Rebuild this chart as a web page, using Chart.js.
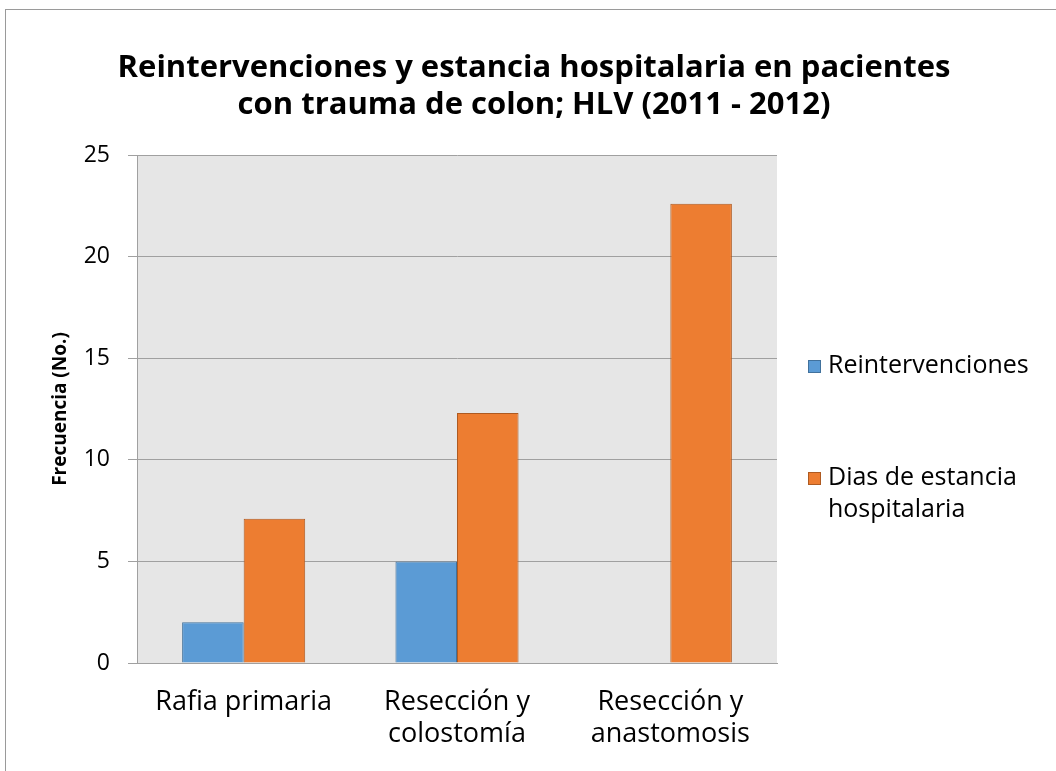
<!DOCTYPE html>
<html>
<head>
<meta charset="utf-8">
<script src="https://cdn.jsdelivr.net/npm/chart.js@4.4.1/dist/chart.umd.min.js"></script>
<style>
  html, body { margin: 0; padding: 0; background: #fff; }
  #wrap { position: relative; width: 1056px; height: 771px; overflow: hidden; }
  #frame { position: absolute; left: 5px; top: 9px; width: 1100px; height: 900px; border: 1px solid #9a9a9a; box-sizing: border-box; }
  canvas { position: absolute; left: 0; top: 0; }
</style>
</head>
<body>
<div id="wrap">
  <div id="frame"></div>
  <canvas id="c" width="1056" height="771"></canvas>
</div>
<script>
const categories = [["Rafia primaria"], ["Resección y", "colostomía"], ["Resección y", "anastomosis"]];
const reintervenciones = [2, 5, 0];
const diasEstancia = [7.1, 12.3, 22.6];
const yTicks = [0, 5, 10, 15, 20, 25];
const seriesNames = ["Reintervenciones", ["Dias de estancia", "hospitalaria"]];
const titleLines = ["Reintervenciones y estancia hospitalaria en pacientes", "con trauma de colon; HLV (2011 - 2012)"];
const yAxisTitle = "Frecuencia (No.)";

const FONT = "'Open Sans'";

const decor = {
  id: 'decor',
  beforeDraw(chart) {
    const { ctx, chartArea: a } = chart;
    ctx.save();
    ctx.fillStyle = '#e6e6e6';
    ctx.fillRect(a.left, a.top, a.right - a.left, a.bottom - a.top);
    ctx.restore();
  },
  afterDraw(chart) {
    const { ctx } = chart;
    ctx.save();
    ctx.fillStyle = '#000';
    ctx.textAlign = 'center';
    ctx.textBaseline = 'middle';
    ctx.font = 'bold 31px ' + FONT;
    ctx.fillText(titleLines[0], 534, 68);
    ctx.fillText(titleLines[1], 534, 105);
    ctx.save();
    ctx.translate(66, 409);
    ctx.rotate(-Math.PI / 2);
    ctx.textBaseline = 'alphabetic';
    ctx.font = 'bold 19px ' + FONT;
    ctx.fillText(yAxisTitle, 0, 0);
    ctx.restore();
    const ds = chart.data.datasets;
    const items = [{ y: 366, lines: [seriesNames[0]] }, { y: 478, lines: seriesNames[1] }];
    ctx.font = '25px ' + FONT;
    ctx.textAlign = 'left';
    items.forEach((it, i) => {
      ctx.fillStyle = ds[i].backgroundColor;
      ctx.strokeStyle = ds[i].borderColor;
      ctx.lineWidth = 1;
      ctx.fillRect(808, it.y - 6, 13, 13);
      ctx.strokeRect(808.5, it.y - 5.5, 12, 12);
      ctx.fillStyle = '#000';
      it.lines.forEach((l, j) => ctx.fillText(l, 828, it.y + j * 32));
    });
    ctx.restore();
  }
};

new Chart(document.getElementById('c'), {
  type: 'bar',
  data: {
    labels: categories,
    datasets: [
      { label: "Reintervenciones", data: reintervenciones, backgroundColor: '#5b9bd5', borderColor: '#41719c', borderWidth: 1 },
      { label: "Dias de estancia hospitalaria", data: diasEstancia, backgroundColor: '#ed7d31', borderColor: '#ae5a21', borderWidth: 1 }
    ]
  },
  options: {
    responsive: false,
    animation: false,
    events: [],
    layout: { padding: { left: 0, right: 279, top: 155, bottom: 0 } },
    plugins: { legend: { display: false }, title: { display: false }, tooltip: { enabled: false } },
    datasets: { bar: { categoryPercentage: 0.577, barPercentage: 1.0 } },
    scales: {
      x: {
        grid: { display: false, drawTicks: false },
        border: { display: true, color: '#a0a0a0', width: 1 },
        ticks: { color: '#000', font: { family: "Open Sans", size: 27, lineHeight: 1.19 }, padding: 23, maxRotation: 0, autoSkip: false },
        afterFit(s) { s.height = 771 - 663; }
      },
      y: {
        min: 0, max: 25,
        afterBuildTicks(s) { s.ticks = yTicks.map(v => ({ value: v })); },
        grid: { color: '#a0a0a0', lineWidth: 1, tickLength: 9, drawTicks: true },
        border: { display: true, color: '#a0a0a0', width: 1 },
        ticks: { color: '#000', font: { family: "Open Sans", size: 23 }, padding: 18 },
        afterFit(s) { s.width = 137; }
      }
    }
  },
  plugins: [decor]
});
</script>
</body>
</html>
